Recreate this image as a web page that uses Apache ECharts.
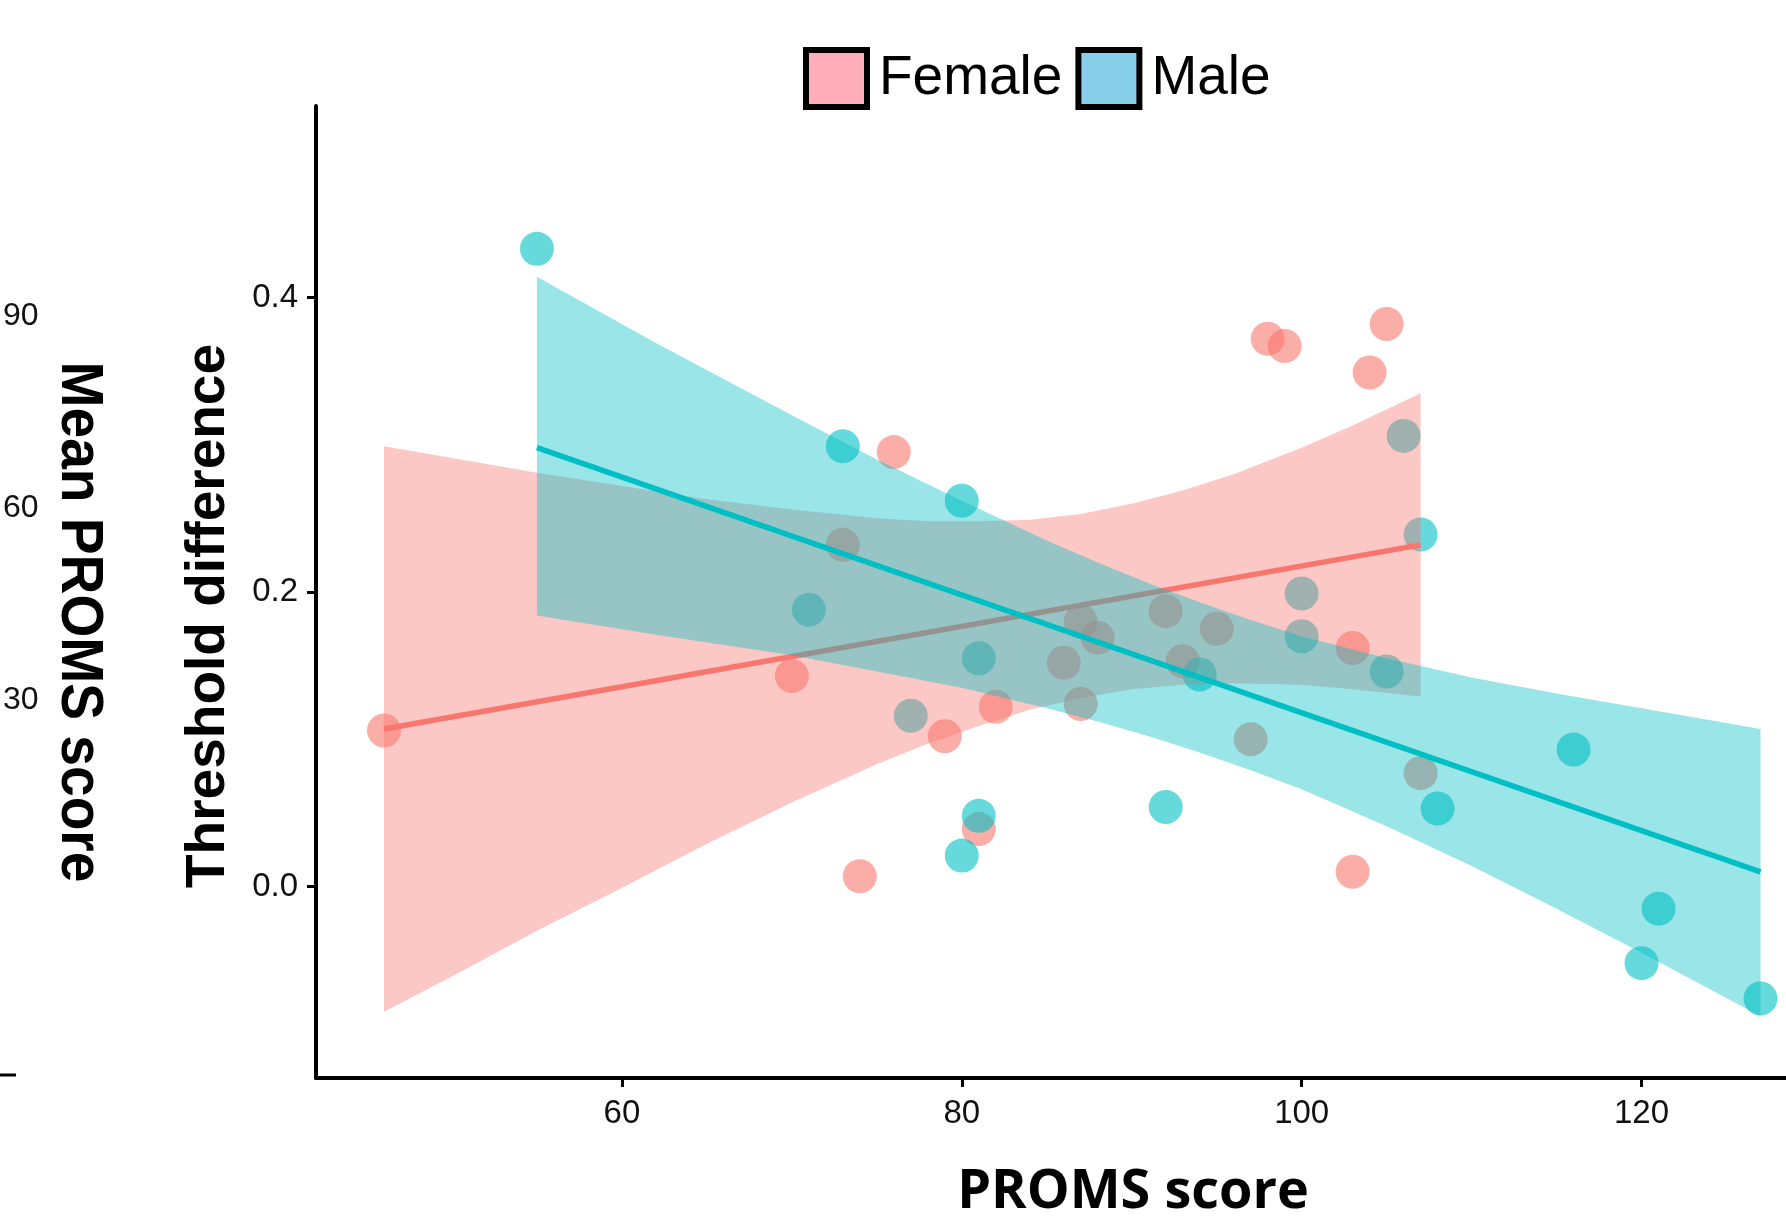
<!DOCTYPE html>
<html>
<head>
<meta charset="utf-8">
<title>Threshold difference vs PROMS score</title>
<script src="https://cdn.jsdelivr.net/npm/echarts/dist/echarts.min.js"></script>
<style>
  html, body { margin: 0; padding: 0; background: #ffffff; }
  #chart { width: 1786px; height: 1225px; }
</style>
</head>
<body>
<div id="chart"></div>
<script>
// ---- axis ticks ----
const xTicks = [60, 80, 100, 120];
const yTicks = [0, 0.2, 0.4];
const leftPanelTicks = [30, 60, 90];

// ---- observations: PROMS score vs threshold difference ----
const femaleX = [46, 70, 73, 74, 76, 79, 81, 82, 86, 87, 87, 88, 92, 93, 95, 97, 98, 99, 103, 103, 104, 105, 107];
const femaleY = [0.106, 0.143, 0.232, 0.007, 0.295, 0.102, 0.039, 0.122, 0.152, 0.180, 0.124, 0.169, 0.187, 0.153, 0.175, 0.100, 0.372, 0.367, 0.162, 0.010, 0.349, 0.382, 0.077];

const maleX = [55, 71, 73, 77, 80, 80, 81, 81, 92, 94, 100, 100, 105, 106, 107, 108, 116, 120, 121, 127];
const maleY = [0.433, 0.188, 0.299, 0.116, 0.262, 0.021, 0.155, 0.048, 0.054, 0.144, 0.199, 0.170, 0.146, 0.306, 0.239, 0.053, 0.093, -0.052, -0.015, -0.076];

// ---- linear fits (end points) ----
const femaleFitX = [46, 107];
const femaleFitY = [0.107, 0.232];
const maleFitX = [55, 127];
const maleFitY = [0.298, 0.010];

// ---- confidence bands ----
const femaleBandX  = [46, 50, 55, 60, 65, 70, 75, 78, 81, 84, 87, 90, 93, 96, 100, 103, 107];
const femaleBandLo = [-0.085, -0.061, -0.030, -0.001, 0.029, 0.057, 0.083, 0.097, 0.109, 0.120, 0.128, 0.134, 0.137, 0.138, 0.137, 0.134, 0.129];
const femaleBandHi = [0.299, 0.291, 0.281, 0.272, 0.263, 0.256, 0.250, 0.248, 0.248, 0.249, 0.253, 0.260, 0.269, 0.280, 0.298, 0.313, 0.335];

const maleBandX  = [55, 62, 70, 75, 80, 85, 88, 91, 94, 97, 100, 105, 110, 115, 120, 127];
const maleBandLo = [0.184, 0.171, 0.157, 0.146, 0.135, 0.121, 0.112, 0.102, 0.091, 0.079, 0.066, 0.041, 0.014, -0.015, -0.045, -0.088];
const maleBandHi = [0.414, 0.369, 0.320, 0.290, 0.262, 0.235, 0.220, 0.206, 0.193, 0.181, 0.170, 0.155, 0.142, 0.131, 0.121, 0.107];

const FEMALE = '#F8766D';
const MALE = '#00BFC4';

const zip = (xs, ys) => xs.map((x, i) => [x, ys[i]]);

// Ribbon between lower and upper limits, drawn as one polygon through the axis scales.
function bandSeries(name, xs, lo, hi, fill, z) {
  return {
    name: name, type: 'custom', silent: true, clip: true, z: z,
    data: xs.map((x, i) => [x, lo[i], hi[i]]),
    encode: { x: 0, y: [1, 2] },
    renderItem: (params, api) => {
      if (params.dataIndex !== 0) return null;
      const upper = xs.map((x, i) => api.coord([x, hi[i]]));
      const lower = xs.map((x, i) => api.coord([x, lo[i]])).reverse();
      return {
        type: 'polygon',
        shape: { points: upper.concat(lower) },
        style: { fill: fill, stroke: null }
      };
    }
  };
}

function fitSeries(name, xs, ys, color, z) {
  return {
    name: name, type: 'line', data: zip(xs, ys), symbol: 'none', silent: true, z: z,
    lineStyle: { color: color, width: 5.5 }
  };
}

const labelFont = 'Liberation Sans';

const chart = echarts.init(document.getElementById('chart'), null, { renderer: 'canvas' });

chart.setOption({
  animation: false,
  backgroundColor: '#ffffff',
  legend: {
    left: 803, top: 47, padding: 0,
    itemWidth: 61, itemHeight: 57, itemGap: 13,
    selectedMode: false,
    textStyle: { fontFamily: labelFont, fontSize: 55, color: '#000', padding: [0, 0, 0, 7] },
    data: [
      { name: 'Female', icon: 'rect', itemStyle: { color: '#FFAEB9', borderColor: '#000', borderWidth: 6, opacity: 1 } },
      { name: 'Male', icon: 'rect', itemStyle: { color: '#87CEEB', borderColor: '#000', borderWidth: 6, opacity: 1 } }
    ]
  },
  grid: [
    { left: 316, right: 0, top: 106, bottom: 143 },
    { left: 41, width: 10, top: 124, height: 960 }
  ],
  xAxis: [
    {
      type: 'value', gridIndex: 0, min: 42, max: 128.5,
      axisLine: { onZero: false, lineStyle: { color: '#000', width: 4 } },
      axisTick: { show: true, length: 9, lineStyle: { color: '#000', width: 3 }, customValues: xTicks },
      axisLabel: { customValues: xTicks, margin: 19, fontFamily: labelFont, fontSize: 33, color: '#111' },
      splitLine: { show: false },
      name: 'PROMS score', nameLocation: 'middle', nameGap: 88,
      nameTextStyle: { fontFamily: 'Open Sans', fontWeight: 'bold', fontSize: 54, color: '#000', padding: [0, 0, 0, 164] }
    },
    { type: 'value', gridIndex: 1, min: 0, max: 1, show: false }
  ],
  yAxis: [
    {
      type: 'value', gridIndex: 0, min: -0.13, max: 0.53,
      axisLine: { show: true, onZero: false, lineStyle: { color: '#000', width: 4 } },
      axisTick: { show: true, length: 9, lineStyle: { color: '#000', width: 3 }, customValues: yTicks },
      axisLabel: {
        customValues: yTicks, margin: 18, fontFamily: labelFont, fontSize: 33, color: '#111',
        formatter: v => Number(v).toFixed(1)
      },
      splitLine: { show: false }
    },
    {
      type: 'value', gridIndex: 1, min: -30, max: 120,
      axisLine: { show: false }, axisTick: { show: false }, splitLine: { show: false },
      axisLabel: { customValues: leftPanelTicks, margin: 8, fontFamily: labelFont, fontSize: 32, color: '#111' }
    }
  ],
  graphic: [
    {
      type: 'text', x: 209, y: 616, rotation: Math.PI / 2,
      style: { text: 'Threshold difference', font: 'bold 55px "Liberation Sans"', fill: '#000', align: 'center', verticalAlign: 'middle' }
    },
    {
      type: 'text', x: 79, y: 622, rotation: -Math.PI / 2, scaleX: 0.919,
      style: { text: 'Mean PROMS score', font: 'bold 60px "Liberation Sans"', fill: '#000', align: 'center', verticalAlign: 'middle' }
    },
    {
      type: 'line', shape: { x1: 0, y1: 1075, x2: 16, y2: 1075 },
      style: { stroke: '#000', lineWidth: 3 }
    }
  ],
  series: [
    {
      name: 'Female', type: 'scatter', data: zip(femaleX, femaleY), symbolSize: 34, z: 1,
      itemStyle: { color: FEMALE, opacity: 0.6 }, emphasis: { disabled: true }
    },
    {
      name: 'Male', type: 'scatter', data: zip(maleX, maleY), symbolSize: 34, z: 1,
      itemStyle: { color: MALE, opacity: 0.6 }, emphasis: { disabled: true }
    },
    bandSeries('Female band', femaleBandX, femaleBandLo, femaleBandHi, 'rgba(248,118,109,0.4)', 2),
    fitSeries('Female fit', femaleFitX, femaleFitY, FEMALE, 3),
    bandSeries('Male band', maleBandX, maleBandLo, maleBandHi, 'rgba(0,191,196,0.4)', 4),
    fitSeries('Male fit', maleFitX, maleFitY, MALE, 5)
  ]
});
</script>
</body>
</html>
